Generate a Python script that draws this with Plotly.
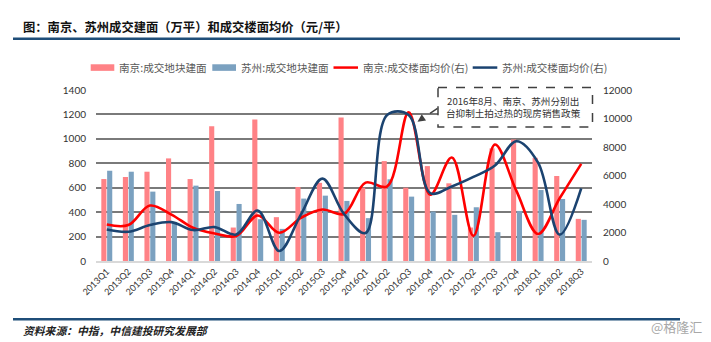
import plotly.graph_objects as go

# ---- data ----
quarters = [
    "2013Q1", "2013Q2", "2013Q3", "2013Q4",
    "2014Q1", "2014Q2", "2014Q3", "2014Q4",
    "2015Q1", "2015Q2", "2015Q3", "2015Q4",
    "2016Q1", "2016Q2", "2016Q3", "2016Q4",
    "2017Q1", "2017Q2", "2017Q3", "2017Q4",
    "2018Q1", "2018Q2", "2018Q3",
]
nanjing_area = [671, 688, 731, 840, 671, 1104, 274, 1158, 359, 606, 640, 1175,
                600, 818, 600, 777, 636, 274, 922, 995, 845, 696, 345]
suzhou_area = [739, 731, 568, 320, 617, 573, 467, 342, 263, 511, 535, 492,
               351, 669, 527, 405, 378, 440, 236, 410, 581, 508, 337]
nanjing_price = [2560, 2520, 3890, 3260, 2330, 1930, 1750, 3190, 1980, 3030, 3610, 3300,
                 5500, 5230, 10440, 4650, 7260, 1760, 8180, 4900, 1900, 4400, 6820]
suzhou_price = [2210, 2050, 2520, 2730, 2170, 2380, 1860, 3540, 700, 3250, 5780, 3300,
                1960, 10250, 10250, 4760, 5230, 5900, 6700, 8400, 6900, 1850, 5100]

left_ticks = list(range(0, 1401, 200))
right_ticks = list(range(0, 12001, 2000))

legend_names = ["南京:成交地块建面", "苏州:成交地块建面",
                "南京:成交楼面均价(右)", "苏州:成交楼面均价(右)"]

# ---- styling ----
PINK = "#FF8286"
STEEL = "#7BA1C0"
RED = "#FF0000"
NAVY = "#1B4370"
RULE = "#1F4E79"
CJK = "Noto Sans CJK SC"
NUM = "Lato, Noto Sans CJK SC"

W, H = 711, 342
L, R, T, B = 96, 592, 90, 261.5


def px(x):
    return (x - L) / (R - L)


def py(y):
    return (B - y) / (B - T)


fig = go.Figure()
fig.add_bar(x=quarters, y=nanjing_area, name=legend_names[0], marker_color=PINK,
            marker_line_width=0)
fig.add_bar(x=quarters, y=suzhou_area, name=legend_names[1], marker_color=STEEL,
            marker_line_width=0)
fig.add_scatter(x=quarters, y=nanjing_price, name=legend_names[2], yaxis="y2",
                mode="lines", line=dict(color=RED, width=2.6, shape="spline", smoothing=1.0))
fig.add_scatter(x=quarters, y=suzhou_price, name=legend_names[3], yaxis="y2",
                mode="lines", line=dict(color=NAVY, width=2.6, shape="spline", smoothing=1.0))

shapes = []
annotations = []

# title and rules
annotations.append(dict(text="<b>图：南京、苏州成交建面（万平）和成交楼面均价（元/平）</b>",
                        xref="paper", yref="paper", x=px(21), y=py(27),
                        xanchor="left", yanchor="middle", showarrow=False,
                        font=dict(family=CJK, size=12.3, color="#111111")))
shapes.append(dict(type="line", xref="paper", yref="paper", x0=px(13), x1=px(680),
                   y0=py(38.5), y1=py(38.5), line=dict(color=RULE, width=2.5)))
shapes.append(dict(type="line", xref="paper", yref="paper", x0=px(13), x1=px(680),
                   y0=py(320), y1=py(320), line=dict(color=RULE, width=2.5)))
annotations.append(dict(text="资料来源：中指，中信建投研究发展部",
                        xref="paper", yref="paper", x=px(21), y=py(331),
                        xanchor="left", yanchor="middle", showarrow=False,
                        font=dict(family=CJK, size=10.8, color="#222222", style="italic",
                                  weight=600)))
annotations.append(dict(text="@格隆汇",
                        xref="paper", yref="paper", x=px(704), y=py(327),
                        xanchor="right", yanchor="middle", showarrow=False,
                        font=dict(family=CJK, size=13, color="#A8A8A8")))

# legend
leg_y = 67.5
shapes.append(dict(type="rect", xref="paper", yref="paper", x0=px(90.7), x1=px(114.3),
                   y0=py(64.2), y1=py(70.8), fillcolor=PINK, line_width=0))
shapes.append(dict(type="rect", xref="paper", yref="paper", x0=px(212.3), x1=px(236),
                   y0=py(64.2), y1=py(70.8), fillcolor=STEEL, line_width=0))
shapes.append(dict(type="line", xref="paper", yref="paper", x0=px(333.5), x1=px(358),
                   y0=py(leg_y), y1=py(leg_y), line=dict(color=RED, width=2.5)))
shapes.append(dict(type="line", xref="paper", yref="paper", x0=px(472.7), x1=px(497.3),
                   y0=py(leg_y), y1=py(leg_y), line=dict(color=NAVY, width=2.5)))
for name, x0 in zip(legend_names, [117, 238.7, 361, 499.5]):
    annotations.append(dict(text=name, xref="paper", yref="paper", x=px(x0), y=py(leg_y),
                            xanchor="left", yanchor="middle", showarrow=False,
                            font=dict(family=CJK, size=10.6, color="#595959")))

# policy note box with dashed pointer
shapes.append(dict(type="rect", xref="paper", yref="paper", x0=px(438), x1=px(592.5),
                   y0=py(87.5), y1=py(127), fillcolor="white",
                   line=dict(color="#404040", width=1.5, dash="dash"), layer="above"))
annotations.append(dict(text="2016年8月、南京、苏州分别出<br>台抑制土拍过热的现房销售政策",
                        xref="paper", yref="paper", x=px(513), y=py(107.5),
                        xanchor="center", yanchor="middle", showarrow=False, align="center",
                        font=dict(family=CJK, size=9.6, color="#333333")))
shapes.append(dict(type="line", xref="paper", yref="paper", x0=px(437.5), x1=px(421),
                   y0=py(108.5), y1=py(119.5), line=dict(color="#404040", width=1.5, dash="dash")))
annotations.append(dict(text="", xref="paper", yref="paper", x=px(417.5), y=py(121.8),
                        axref="pixel", ayref="pixel", ax=7, ay=-4.7, showarrow=True,
                        arrowhead=2, arrowsize=1.1, arrowwidth=1.4, arrowcolor="#404040"))

fig.update_layout(
    width=W, height=H, autosize=False,
    margin=dict(l=L, r=W - R, t=T, b=H - B, pad=0),
    paper_bgcolor="white", plot_bgcolor="white",
    showlegend=False,
    barmode="group", bargap=0.46, bargroupgap=0.12,
    shapes=shapes, annotations=annotations,
    xaxis=dict(
        type="category", categoryorder="array", categoryarray=quarters,
        tickangle=-45, tickfont=dict(family=NUM, size=9, color="#333333"),
        showgrid=False, showline=True, linecolor="#D9D9D9", linewidth=1.5,
        ticks="", automargin=False,
    ),
    yaxis=dict(
        range=[0, 1400], tickvals=left_ticks, showgrid=True, gridcolor="#7A7A7A",
        gridwidth=1.8, zeroline=False, showline=False, ticks="",
        tickfont=dict(family=NUM, size=10, color="#333333"),
        ticklabelstandoff=9, automargin=False,
    ),
    yaxis2=dict(
        range=[0, 12000], tickvals=right_ticks, tickformat="d", overlaying="y", side="right",
        showgrid=False, zeroline=False, showline=False, ticks="",
        tickfont=dict(family=NUM, size=10, color="#333333"),
        ticklabelstandoff=10, automargin=False,
    ),
)

fig.write_html("out.html")
